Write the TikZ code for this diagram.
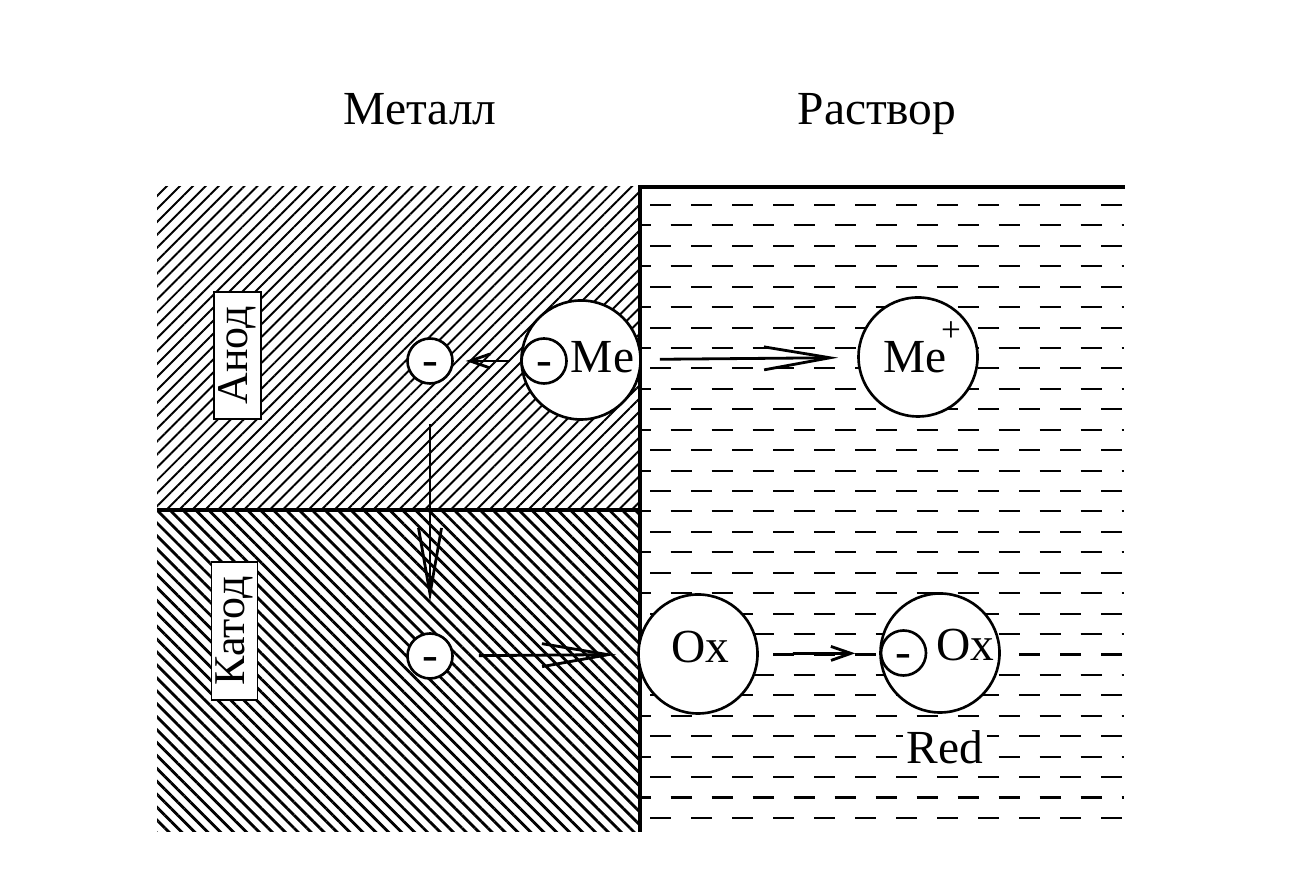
\documentclass[tikz,border=0pt]{standalone}
\usepackage{fontspec}
\setmainfont{Liberation Serif}
\usetikzlibrary{patterns.meta,arrows.meta}

\tikzset{
  particle/.style={draw=black, circle, fill=white, line width=0.75pt, inner sep=0pt},
  electron/.style={particle, minimum size=0.45cm, text height=0.84em, text depth=0pt},
  ion/.style={particle, minimum size=1.19cm},
  tag/.style={draw=black, fill=white, rectangle, rotate=90, inner sep=0pt, line width=0.5pt,
    font=\fontsize{12.5pt}{15pt}\selectfont},
  longtip/.style={-{Straight Barb[length=0.66cm,width=0.23cm]}, line width=0.8pt},
  shorttip/.style={-{Straight Barb[length=0.2cm,width=0.14cm]}, line width=0.8pt},
  liquid/.style={line width=0.6pt, dash pattern=on 0.21cm off 0.20cm},
}

\begin{document}
\begin{tikzpicture}[font=\fontsize{13.5pt}{16pt}\selectfont]
  \useasboundingbox (0,0) rectangle (13.06,8.70);

  % metal: anode and cathode parts
  \fill[pattern={Lines[angle=45,distance=2.6pt,line width=0.55pt]}] (1.57,3.60) rectangle (6.40,6.83);
  \fill[pattern={Lines[angle=-45,distance=2.6pt,line width=0.8pt]}] (1.57,0.38) rectangle (6.40,3.60);

  % solution
  \foreach \i in {0,...,30} {
    \pgfmathsetmacro{\yy}{6.65-0.2043*\i}
    \ifodd\i
      \draw[liquid, dash phase=0.105cm] (6.40,\yy) -- (11.24,\yy);
    \else
      \draw[liquid] (6.50,\yy) -- (11.24,\yy);
    \fi
  }
  \draw[line width=0.9pt] (6.40,0.38) -- (6.40,6.83) -- (11.25,6.83);
  \draw[line width=0.9pt] (1.57,3.60) -- (6.40,3.60);

  \node[anchor=base] (metal) at (4.20,7.45) {Металл};
  \node[anchor=base] (sol) at (8.77,7.45) {Раствор};
  \node[tag, minimum width=1.27cm, minimum height=0.47cm] (anode) at (2.375,5.145) {Анод};
  \node[tag, minimum width=1.38cm, minimum height=0.46cm] (cathode) at (2.345,2.39) {Катод};

  % anode
  \node[electron] (e1) at (4.30,5.09) {-};
  \node[ion] (me) at (5.81,5.10) {};
  \node[electron] (eme) at (5.44,5.09) {-};
  \node (metext) at (6.025,5.125) {Me};
  \node[ion] (mep) at (9.18,5.13) {};
  \node (meptext) at (9.15,5.13) {Me};
  \node[font=\fontsize{10pt}{12pt}\selectfont] (plus) at (9.51,5.38) {+};

  % cathode
  \node[electron] (ecat) at (4.30,2.14) {-};
  \node[ion] (ox) at (6.98,2.16) {};
  \node (oxtext) at (7.00,2.23) {Ox};
  \node[ion] (ox2) at (9.40,2.17) {};
  \node[electron] (eox) at (9.035,2.17) {-};
  \node (ox2text) at (9.65,2.245) {Ox};
  \node[fill=white, inner sep=1pt] (red) at (9.45,1.225) {Red};

  \draw[shorttip, shorten <=0.1cm, shorten >=0.12cm] (eme) -- (e1);
  \draw[longtip, shorten <=0.18cm, shorten >=0.19cm] (me) -- (mep);
  \draw[longtip, shorten <=0.39cm, shorten >=0.30cm] (e1) -- (ecat);
  \draw[longtip, shorten <=0.25cm, shorten >=0.21cm] (ecat) -- (ox);
  \draw[shorttip, shorten <=0.34cm, shorten >=0.24cm] (ox) -- (ox2);
\end{tikzpicture}
\end{document}
